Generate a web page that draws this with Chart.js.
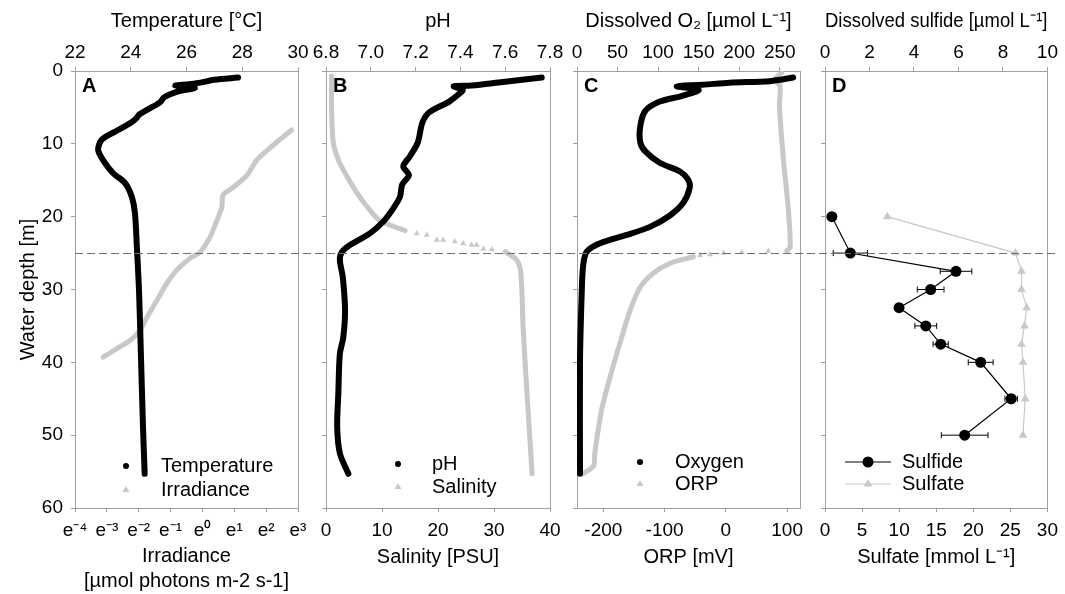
<!DOCTYPE html>
<html>
<head>
<meta charset="utf-8">
<title>Water column profiles</title>
<script src="https://cdn.jsdelivr.net/npm/chart.js@4.4.1/dist/chart.umd.min.js"></script>
<style>
  html, body { margin: 0; padding: 0; background: #fff; }
  #fig { position: relative; width: 1065px; height: 594px; }
  #fig canvas { position: absolute; left: 0; top: 0; }
</style>
</head>
<body>
<div id="fig">
  <canvas id="panelA" width="1065" height="594"></canvas>
  <canvas id="panelB" width="1065" height="594"></canvas>
  <canvas id="panelC" width="1065" height="594"></canvas>
  <canvas id="panelD" width="1065" height="594"></canvas>
</div>
<script>
(function () {
  'use strict';

  // ---- Data ----
  var depthTicks = [0, 10, 20, 30, 40, 50, 60];

  // A: temperature (top) and irradiance (bottom, ln scale)
  var tempTicks = [22, 24, 26, 28, 30];
  var irrExponents = [-4, -3, -2, -1, 0, 1, 2, 3];
  var irrTickLabels = ['e\u207B\u2074', 'e\u207B\u00B3', 'e\u207B\u00B2', 'e\u207B\u00B9', 'e\u2070', 'e\u00B9', 'e\u00B2', 'e\u00B3'];
  var tempDepth = [0.9, 1.2, 1.6, 1.8, 2.0, 2.3, 2.8, 3.6, 4.3, 5.3, 6.0, 6.5, 7.1, 8.1, 9.4, 10.8, 12.2, 14.0, 15.4, 17.3, 19.5, 24.2, 30.5, 39.7, 48.9, 55.3];
  var tempValue = [27.85, 27.0, 26.5, 26.1, 25.6, 26.3, 25.7, 25.2, 25.05, 24.6, 24.3, 24.2, 24.0, 23.55, 22.97, 22.83, 23.0, 23.36, 23.8, 24.04, 24.15, 24.22, 24.3, 24.37, 24.44, 24.5];
  var irrDepth = [8.1, 9.4, 10.8, 12.2, 14.3, 16.0, 17.0, 18.7, 20.5, 22.8, 24.9, 25.7, 27.3, 29.1, 31.5, 33.8, 35.6, 37.0, 38.1, 39.3];
  var irrValue = [16.4, 11.4, 7.85, 5.53, 4.06, 2.61, 1.92, 1.84, 1.58, 1.27, 0.923, 0.677, 0.449, 0.330, 0.239, 0.176, 0.141, 0.103, 0.0686, 0.0442];

  // B: pH (top) and salinity (bottom)
  var phTicks = [6.8, 7.0, 7.2, 7.4, 7.6, 7.8];
  var salTicks = [0, 10, 20, 30, 40];
  var phDepth = [0.9, 1.5, 2.0, 2.1, 2.6, 3.0, 4.2, 5.7, 7.1, 9.8, 11.7, 13.1, 14.3, 15.6, 17.3, 19.1, 20.7, 22.3, 23.9, 24.9, 26.0, 28.3, 32.9, 36.6, 38.8, 44.3, 48.9, 52.5, 55.3];
  var phValue = [7.763, 7.59, 7.45, 7.37, 7.41, 7.40, 7.35, 7.26, 7.23, 7.21, 7.175, 7.145, 7.17, 7.14, 7.13, 7.095, 7.055, 6.996, 6.907, 6.87, 6.862, 6.875, 6.885, 6.877, 6.862, 6.855, 6.85, 6.862, 6.9];
  var salUpperDepth = [0.7, 5.3, 9.8, 12.2, 14.0, 16.7, 18.6, 20.5, 21.9];
  var salUpperValue = [1.0, 1.0, 1.3, 2.2, 3.4, 5.5, 7.3, 9.6, 14.1];
  var salSparseDepth = [22.3, 22.5, 23.2, 23.2, 23.4, 23.7, 23.9, 23.9, 24.4, 24.5];
  var salSparseValue = [16.2, 18.0, 19.8, 20.9, 23.0, 24.5, 26.0, 26.9, 28.1, 29.6];
  var salLowerDepth = [24.8, 26.0, 27.8, 35.2, 44.3, 55.3];
  var salLowerValue = [32.0, 34.1, 34.8, 35.2, 35.9, 36.8];

  // C: dissolved O2 (top) and ORP (bottom)
  var o2Ticks = [0, 50, 100, 150, 200, 250];
  var orpTicks = [-200, -100, 0, 100];
  var o2Depth = [0.9, 1.4, 1.6, 1.9, 2.1, 2.6, 3.4, 4.2, 5.5, 7.6, 9.8, 11.0, 12.6, 13.8, 14.9, 16.0, 18.1, 19.8, 21.4, 22.5, 23.5, 24.2, 25.0, 26.9, 30.5, 39.7, 55.3];
  var o2Value = [266.7, 238, 188, 155, 123, 150, 130, 102, 84, 78, 78, 84, 102, 127, 137, 139, 131, 115, 90, 61.5, 32, 18.5, 11, 7.4, 5.8, 3.7, 3.7];
  var orpUpperDepth = [0.25, 1.2, 2.1, 4.8, 12.2, 19.1, 24.2, 24.7];
  var orpUpperValue = [91, 80, 88.5, 87.4, 94, 102, 105, 99.5];
  var orpSparseDepth = [24.7, 24.9, 25.0, 25.2, 25.3];
  var orpSparseValue = [69.4, 26, -4, -25.8, -42];
  var orpLowerDepth = [25.5, 26.4, 27.8, 29.7, 32.9, 37.4, 42.0, 46.6, 52.5, 54.2, 55.3];
  var orpLowerValue = [-53, -91, -119, -140, -156.5, -173, -189, -203, -214, -216, -233];

  // D: dissolved sulfide (top) and sulfate (bottom), discrete samples
  var sulfideTicks = [0, 2, 4, 6, 8, 10];
  var sulfateTicks = [0, 5, 10, 15, 20, 25, 30];
  var sampleDepth = [20, 25, 27.5, 30, 32.5, 35, 37.5, 40, 45, 50];
  var sulfideValue = [0.31, 1.14, 5.89, 4.75, 3.33, 4.53, 5.2, 7.0, 8.37, 6.28];
  var sulfideErr = [0, 0.77, 0.71, 0.6, 0, 0.49, 0.34, 0.56, 0.28, 1.05];
  var sulfateValue = [8.4, 25.7, 26.5, 26.5, 27.2, 26.9, 26.5, 26.7, 27.0, 26.7];

  var chemoclineDepth = 25;

  // ---- Styling ----
  var AXIS = '#a0a0a0';
  var BLACK = '#000000';
  var GRAY = '#c8c8c8';
  var FONT = '"Liberation Sans", Arial, sans-serif';

  Chart.defaults.font.family = FONT;
  Chart.defaults.font.size = 19;
  Chart.defaults.color = '#000';
  Chart.defaults.animation = false;

  function pts(xs, ys) {
    return xs.map(function (v, i) { return { x: v, y: ys[i] }; });
  }

  // dense sonde profile: drawn as a thick smoothed band
  function profile(label, xs, ys, axisId, color, width, style) {
    return {
      label: label, data: pts(xs, ys), xAxisID: axisId,
      showLine: true, tension: 0.3,
      borderColor: color, backgroundColor: color, borderWidth: width,
      borderJoinStyle: 'round', borderCapStyle: 'round', pointRadius: 0,
      pointStyle: style
    };
  }

  // sparse readings across the chemocline: individual triangles
  function sparse(xs, ys, axisId, color) {
    return {
      data: pts(xs, ys), xAxisID: axisId, showLine: false,
      pointStyle: 'triangle', pointRadius: 3.5, borderWidth: 0,
      backgroundColor: color, borderColor: color
    };
  }

  function hAxis(position, spec) {
    var isTop = position === 'top';
    return {
      type: spec.type || 'linear',
      axis: 'x',
      position: position,
      min: spec.min,
      max: spec.max,
      border: { display: false },
      grid: { drawOnChartArea: false, drawTicks: true, tickLength: 4, color: AXIS },
      ticks: {
        autoSkip: false, maxRotation: 0, minRotation: 0,
        padding: isTop ? 3 : 7,
        callback: spec.label || function (v) { return String(v); }
      },
      title: {
        display: true, text: spec.title,
        font: { size: 20, lineHeight: 1.25 },
        padding: isTop ? { top: 8.5, bottom: 0 } : { top: 0, bottom: spec.titlePad }
      },
      afterBuildTicks: function (s) {
        s.ticks = spec.ticks.map(function (v) { return { value: v }; });
      },
      afterFit: function (s) { s.height = isTop ? 71 : 86; }
    };
  }

  function drawMark(ctx, style, x, y, r, color) {
    ctx.fillStyle = color;
    ctx.beginPath();
    if (style === 'triangle') {
      ctx.moveTo(x, y - r);
      ctx.lineTo(x + r * 0.866, y + r * 0.5);
      ctx.lineTo(x - r * 0.866, y + r * 0.5);
      ctx.closePath();
    } else {
      ctx.arc(x, y, r, 0, Math.PI * 2);
    }
    ctx.fill();
  }

  var panelPlugin = {
    id: 'panel',
    beforeDatasetsDraw: function (chart, args, opts) {
      var a = chart.chartArea, ctx = chart.ctx;
      ctx.save();
      ctx.strokeStyle = AXIS;
      ctx.lineWidth = 1;
      ctx.strokeRect(Math.round(a.left) + 0.5, Math.round(a.top) + 0.5,
        Math.round(a.right - a.left), Math.round(a.bottom - a.top));
      ctx.fillStyle = '#000';
      ctx.font = 'bold 20px ' + FONT;
      ctx.textBaseline = 'top';
      ctx.fillText(opts.letter, a.left + 7, a.top + 5);
      ctx.restore();
    },
    afterDatasetsDraw: function (chart, args, opts) {
      var a = chart.chartArea, ctx = chart.ctx;
      ctx.save();

      // horizontal error bars
      chart.data.datasets.forEach(function (ds) {
        if (!ds.errX) return;
        var xs = chart.scales[ds.xAxisID], ys = chart.scales.y;
        ctx.strokeStyle = BLACK;
        ctx.lineWidth = 1;
        ds.data.forEach(function (p, i) {
          var e = ds.errX[i];
          if (!e) return;
          var x1 = xs.getPixelForValue(p.x - e), x2 = xs.getPixelForValue(p.x + e);
          var y = ys.getPixelForValue(p.y);
          ctx.beginPath();
          ctx.moveTo(x1, y); ctx.lineTo(x2, y);
          ctx.moveTo(x1, y - 3); ctx.lineTo(x1, y + 3);
          ctx.moveTo(x2, y - 3); ctx.lineTo(x2, y + 3);
          ctx.stroke();
        });
      });

      // legend inside the plot
      var lg = opts.legend, row = 0;
      ctx.font = '20px ' + FONT;
      ctx.textBaseline = 'middle';
      chart.data.datasets.forEach(function (ds) {
        if (!ds.label) return;
        var y = a.bottom - lg.bottom + row * lg.dy;
        var mx = a.left + lg.markX;
        if (lg.lineLen) {
          ctx.strokeStyle = ds.borderColor;
          ctx.lineWidth = ds.borderWidth;
          ctx.beginPath();
          ctx.moveTo(mx - lg.lineLen / 2, y);
          ctx.lineTo(mx + lg.lineLen / 2, y);
          ctx.stroke();
        }
        drawMark(ctx, ds.pointStyle, mx, y, ds.pointStyle === 'triangle' ? lg.triSize : lg.dotSize, ds.backgroundColor);
        ctx.fillStyle = '#000';
        ctx.fillText(ds.label, a.left + lg.textX, y);
        row++;
      });

      // chemocline reference line across all panels
      if (opts.refLine) {
        var yy = Math.round(chart.scales.y.getPixelForValue(opts.refLine.depth)) + 0.5;
        ctx.strokeStyle = '#6e6e6e';
        ctx.lineWidth = 1;
        ctx.setLineDash([8, 4]);
        ctx.beginPath();
        ctx.moveTo(opts.refLine.from, yy);
        ctx.lineTo(opts.refLine.to, yy);
        ctx.stroke();
      }
      ctx.restore();
    }
  };

  function makePanel(id, o) {
    return new Chart(document.getElementById(id), {
      type: 'scatter',
      data: { datasets: o.datasets },
      options: {
        responsive: false,
        animation: false,
        events: [],
        layout: { padding: { left: 0, top: 0, right: 1065 - o.right, bottom: 0 } },
        plugins: {
          legend: { display: false },
          tooltip: { enabled: false },
          panel: { letter: o.letter, legend: o.legend, refLine: o.refLine || null }
        },
        scales: {
          y: {
            type: 'linear', position: 'left', reverse: true, min: 0, max: 60,
            border: { display: false },
            grid: { drawOnChartArea: false, drawTicks: true, tickLength: 4, color: AXIS },
            ticks: { display: o.depthLabels, padding: 8 },
            title: {
              display: o.depthLabels, text: 'Water depth [m]',
              font: { size: 20 }, padding: { top: 16, bottom: 0 }
            },
            afterBuildTicks: function (s) {
              s.ticks = depthTicks.map(function (v) { return { value: v }; });
            },
            afterFit: function (s) { s.width = o.left; }
          },
          xTop: hAxis('top', o.top),
          xBot: hAxis('bottom', o.bottom)
        }
      },
      plugins: [panelPlugin]
    });
  }

  // ---- Panels ----
  makePanel('panelA', {
    left: 75, right: 298, letter: 'A', depthLabels: true,
    top: { min: 22, max: 30, ticks: tempTicks, title: 'Temperature [\u00B0C]' },
    bottom: {
      type: 'logarithmic', min: Math.exp(-4), max: Math.exp(3),
      ticks: irrExponents.map(function (n) { return Math.exp(n); }),
      label: function (v, i) { return irrTickLabels[i]; },
      title: ['Irradiance', '[\u00B5mol photons m-2 s-1]'], titlePad: 0
    },
    datasets: [
      profile('Temperature', tempValue, tempDepth, 'xTop', BLACK, 6, 'circle'),
      profile('Irradiance', irrValue, irrDepth, 'xBot', GRAY, 5, 'triangle')
    ],
    legend: { bottom: 42, dy: 24, markX: 51, textX: 86, dotSize: 3, triSize: 4 }
  });

  makePanel('panelB', {
    left: 326, right: 550, letter: 'B', depthLabels: false,
    top: { min: 6.8, max: 7.8, ticks: phTicks, title: 'pH', label: function (v) { return v.toFixed(1); } },
    bottom: { min: 0, max: 40, ticks: salTicks, title: 'Salinity [PSU]', titlePad: 24.5 },
    datasets: [
      profile('pH', phValue, phDepth, 'xTop', BLACK, 6, 'circle'),
      profile('Salinity', salUpperValue, salUpperDepth, 'xBot', GRAY, 5, 'triangle'),
      sparse(salSparseValue, salSparseDepth, 'xBot', GRAY),
      profile(null, salLowerValue, salLowerDepth, 'xBot', GRAY, 5, 'triangle')
    ],
    legend: { bottom: 44, dy: 23, markX: 72, textX: 106, dotSize: 3, triSize: 4 }
  });

  makePanel('panelC', {
    left: 577, right: 800, letter: 'C', depthLabels: false,
    top: { min: 0, max: 275, ticks: o2Ticks, title: 'Dissolved O\u2082 [\u00B5mol L\u207B\u00B9]' },
    bottom: { min: -243, max: 121, ticks: orpTicks, title: 'ORP [mV]', titlePad: 24.5 },
    datasets: [
      profile('Oxygen', o2Value, o2Depth, 'xTop', BLACK, 6, 'circle'),
      profile('ORP', orpUpperValue, orpUpperDepth, 'xBot', GRAY, 5, 'triangle'),
      sparse(orpSparseValue, orpSparseDepth, 'xBot', GRAY),
      profile(null, orpLowerValue, orpLowerDepth, 'xBot', GRAY, 5, 'triangle')
    ],
    legend: { bottom: 46, dy: 22, markX: 63, textX: 98, dotSize: 3, triSize: 4 }
  });

  makePanel('panelD', {
    left: 825, right: 1048, letter: 'D', depthLabels: false,
    top: { min: 0, max: 10, ticks: sulfideTicks, title: 'Dissolved sulfide [\u00B5mol L\u207B\u00B9]' },
    bottom: { min: 0, max: 30, ticks: sulfateTicks, title: 'Sulfate [mmol L\u207B\u00B9]', titlePad: 24.5 },
    datasets: [
      {
        label: 'Sulfide', data: pts(sulfideValue, sampleDepth), xAxisID: 'xTop', errX: sulfideErr,
        showLine: true, borderColor: BLACK, backgroundColor: BLACK, borderWidth: 1.2,
        pointStyle: 'circle', pointRadius: 5.5, pointBorderWidth: 0
      },
      {
        label: 'Sulfate', data: pts(sulfateValue, sampleDepth), xAxisID: 'xBot',
        showLine: true, borderColor: GRAY, backgroundColor: GRAY, borderWidth: 1.2,
        pointStyle: 'triangle', pointRadius: 5, pointBorderWidth: 0
      }
    ],
    legend: { bottom: 46, dy: 22, markX: 43, textX: 77, lineLen: 46, dotSize: 5.5, triSize: 5 },
    refLine: { depth: chemoclineDepth, from: 75, to: 1055 }
  });
})();
</script>
</body>
</html>
